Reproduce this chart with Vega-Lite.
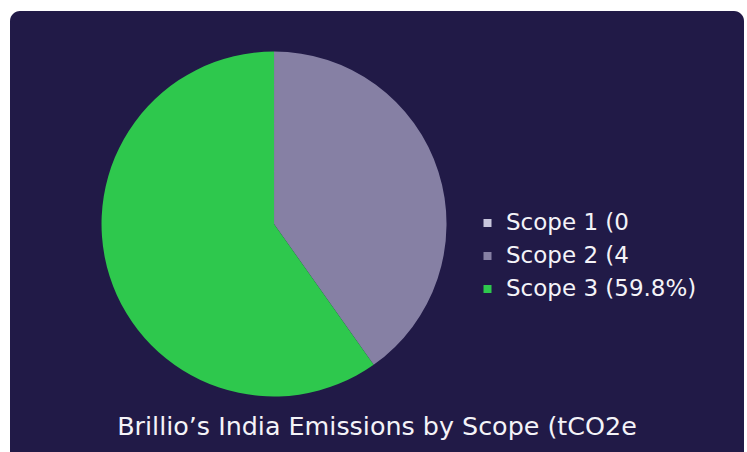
{
  "$schema": "https://vega.github.io/schema/vega-lite/v6.json",
  "width": 734,
  "height": 460,
  "autosize": {"type": "none"},
  "padding": {"left": 10, "top": 11, "right": 3, "bottom": -19},
  "background": "#ffffff",
  "config": {
    "view": {"fill": "#211a47", "stroke": null, "cornerRadius": 10},
    "font": "DejaVu Sans",
    "style": {"guide-label": {"ellipsis": "\u200b"}}
  },
  "title": {
    "text": "Brillio’s India Emissions by Scope (tCO2e",
    "orient": "bottom",
    "anchor": "middle",
    "baseline": "alphabetic",
    "offset": -36,
    "font": "DejaVu Sans",
    "fontSize": 25.4,
    "fontWeight": "normal",
    "color": "#f4f3f8"
  },
  "data": {
    "values": [
      {"scope": "Scope 1 (0%)", "share": 0.0},
      {"scope": "Scope 2 (40.2%)", "share": 40.2},
      {"scope": "Scope 3 (59.8%)", "share": 59.8}
    ]
  },
  "mark": {"type": "arc", "outerRadius": 172.5, "stroke": null},
  "encoding": {
    "theta": {"field": "share", "type": "quantitative", "stack": true},
    "color": {
      "field": "scope",
      "type": "nominal",
      "sort": ["Scope 1 (0%)", "Scope 2 (40.2%)", "Scope 3 (59.8%)"],
      "scale": {
        "domain": ["Scope 1 (0%)", "Scope 2 (40.2%)", "Scope 3 (59.8%)"],
        "range": ["#c8c6dc", "#8680a4", "#2ec84d"]
      },
      "legend": {
        "title": null,
        "orient": "none",
        "legendX": 466,
        "legendY": 200.5,
        "padding": 0,
        "symbolType": "square",
        "symbolSize": 64,
        "symbolStrokeWidth": 0,
        "symbolOpacity": 1,
        "labelFont": "DejaVu Sans",
        "labelFontSize": 23,
        "labelColor": "#f4f3f8",
        "labelOffset": 7,
        "labelLimit": {"expr": "datum.label === 'Scope 3 (59.8%)' ? 400 : 133"},
        "rowPadding": 9
      }
    },
    "order": {"field": "scope", "sort": "ascending"},
    "x": {"datum": 0.3597, "type": "quantitative", "scale": {"domain": [0, 1], "nice": false, "zero": false}, "axis": null},
    "y": {"datum": 0.537, "type": "quantitative", "scale": {"domain": [0, 1], "nice": false, "zero": false}, "axis": null}
  }
}
